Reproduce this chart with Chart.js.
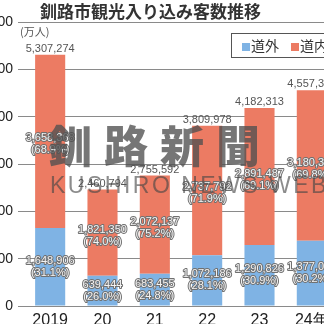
<!DOCTYPE html>
<html lang="ja">
<head>
<meta charset="utf-8">
<script src="https://cdn.jsdelivr.net/npm/chart.js@4/dist/chart.umd.min.js"></script>
<style>
    html, body { margin: 0; padding: 0; background: #fff; }
    #wrap { position: relative; width: 324px; height: 324px; overflow: hidden; background: #fff; }
    #grafico { position: absolute; left: -30px; top: 0; }
    .titulo { position: absolute; left: 40px; top: 0px; font: bold 17px "Noto Sans CJK JP", sans-serif; color: #333; white-space: nowrap; line-height: 22px; }
    .unidad { position: absolute; left: 20px; top: 23px; font: 11px "Noto Sans CJK JP", sans-serif; color: #555; }
    .leyenda { position: absolute; left: 231px; top: 33px; width: 110px; height: 23px; border: 1px solid #555; background: #fff;
               font: 14px "Noto Sans CJK JP", sans-serif; color: #333; line-height: 23px; white-space: nowrap; }
    .leyenda span.caja { display: inline-block; width: 8px; height: 8px; margin: 0 1px 0 10px; }
    .marca { position: absolute; pointer-events: none; white-space: nowrap; }
    .marca1 { left: 48px; top: 112px; font: 900 44px "Noto Sans CJK JP", serif; letter-spacing: 12px; color: rgba(80,80,80,0.78); }
    .marca2 { left: 50px; top: 172px; font: 23px "Liberation Sans", sans-serif; letter-spacing: 2.5px; color: rgba(70,70,70,0.62); }
</style>
</head>
<body>
<div id="wrap">
    <canvas id="grafico" width="400" height="340"></canvas>
    <div class="titulo">釧路市観光入り込み客数推移</div>
    <div class="unidad">(万人)</div>
    <div class="leyenda"><span class="caja" style="background:#7fb3e4"></span>道外<span class="caja" style="background:#ec7b63;margin-left:12px"></span>道内</div>
    <div class="marca marca1">釧路新聞</div>
    <div class="marca marca2">KUSHIRO NEWS WEB</div>
</div>
<script>
// 年度ラベル
const anios = ['2019', '20', '21', '22', '23', '24年'];
// 観光入り込み客数(人)
const doGai = [1648906, 639444, 683455, 1072186, 1290826, 1377012];
const doNai = [3658368, 1821350, 2072137, 2737792, 2891487, 3180330];
// 目盛り(万人)
const yMax = 600;
const yPaso = 100;

const colorAzul = '#7fb3e4';
const colorSalmon = '#ec7b63';

function formatear(n) {
    return n.toLocaleString('en-US');
}

// 棒の中と上に数値を描く
const etiquetas = {
    id: 'etiquetas',
    afterDatasetsDraw(chart) {
        const ctx = chart.ctx;
        ctx.save();
        ctx.font = '11px "Liberation Sans", sans-serif';
        ctx.textAlign = 'center';
        ctx.textBaseline = 'middle';
        ctx.lineJoin = 'round';

        chart.data.datasets.forEach((ds, di) => {
            const meta = chart.getDatasetMeta(di);
            meta.data.forEach((bar, i) => {
                const total = doGai[i] + doNai[i];
                const valor = ds.raw[i];
                const pct = '(' + (valor / total * 100).toFixed(1) + '%)';
                const cy = (bar.y + bar.base) / 2 + (di === 1 ? 3 : 0);
                [formatear(valor), pct].forEach((t, k) => {
                    const y = cy + (k === 0 ? -6 : 6);
                    ctx.lineWidth = 2;
                    ctx.strokeStyle = '#707070';
                    ctx.strokeText(t, bar.x, y);
                    ctx.fillStyle = '#f4f4f4';
                    ctx.fillText(t, bar.x, y);
                });
                // 合計は一番上に
                if (di === 1) {
                    ctx.fillStyle = '#555';
                    ctx.fillText(formatear(total), bar.x, bar.y - 6);
                }
            });
        });
        ctx.restore();
    }
};

document.addEventListener('DOMContentLoaded', function() {
    const ctx = document.getElementById('grafico');

    new Chart(ctx, {
        type: 'bar',
        data: {
            labels: anios,
            datasets: [
                { label: '道外', data: doGai.map(v => v / 10000), raw: doGai, backgroundColor: colorAzul },
                { label: '道内', data: doNai.map(v => v / 10000), raw: doNai, backgroundColor: colorSalmon }
            ]
        },
        options: {
            responsive: false,
            animation: false,
            layout: { padding: { top: 22, right: 32, bottom: 4, left: 0 } },
            plugins: {
                legend: { display: false },
                tooltip: { enabled: false }
            },
            datasets: {
                bar: { barPercentage: 0.575, categoryPercentage: 1 }
            },
            scales: {
                x: {
                    stacked: true,
                    grid: { display: false },
                    border: { display: false },
                    ticks: {
                        color: '#222',
                        padding: -3,
                        font: { size: 16, family: '"Liberation Sans", sans-serif' }
                    },
                    afterFit: function(scale) { scale.height = 30; }
                },
                y: {
                    stacked: true,
                    min: 0,
                    max: yMax,
                    border: { display: false },
                    grid: { color: '#8a8a8a', lineWidth: 1, tickLength: 6 },
                    ticks: {
                        stepSize: yPaso,
                        color: '#222',
                        padding: 5,
                        font: { size: 14, family: '"Liberation Sans", sans-serif' }
                    },
                    afterFit: function(scale) { scale.width = 54; }
                }
            }
        },
        plugins: [etiquetas]
    });
});
</script>
</body>
</html>
